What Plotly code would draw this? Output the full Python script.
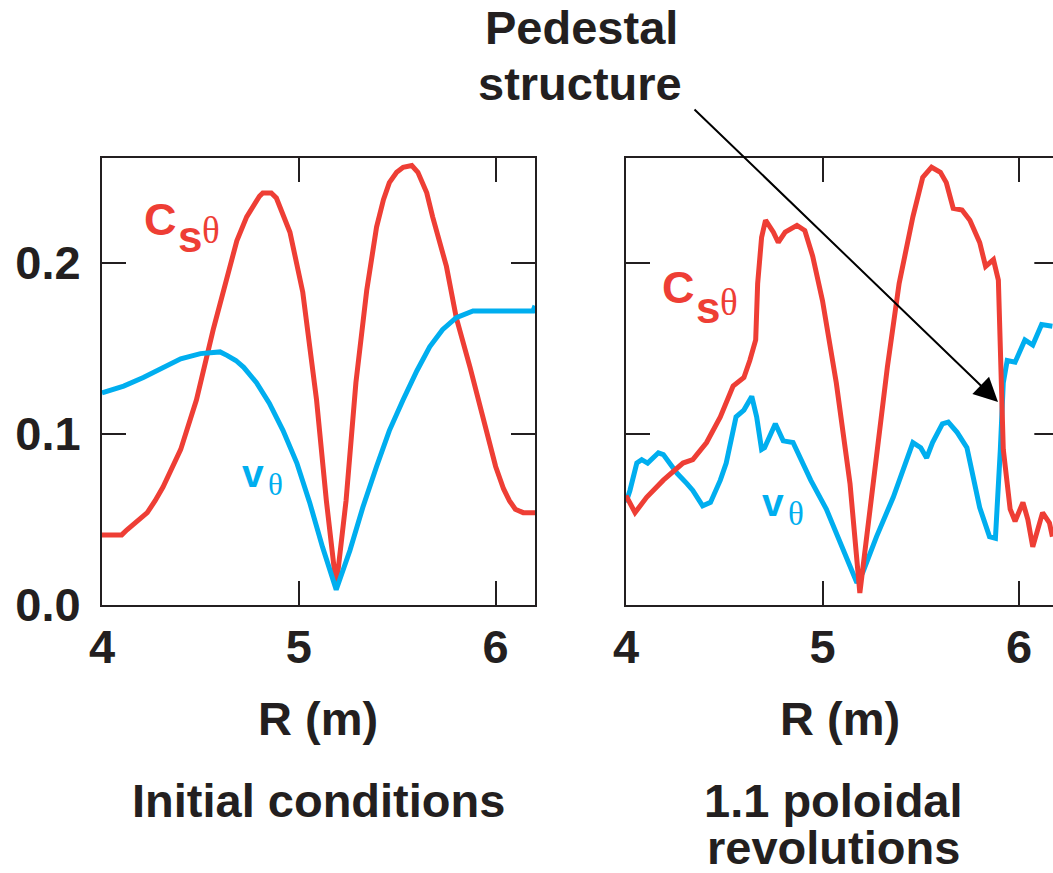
import plotly.graph_objects as go

W, H = 1053, 873

# ---------------- data ----------------
# Left panel: initial conditions
cs_left_R = [4.00, 4.10, 4.127, 4.18, 4.23, 4.27, 4.31, 4.40, 4.48, 4.565, 4.65, 4.685, 4.735, 4.77, 4.80, 4.817,
             4.86, 4.886, 4.92, 4.955, 5.02, 5.09, 5.14, 5.19, 5.24, 5.29, 5.345, 5.395, 5.43, 5.46, 5.497,
             5.53, 5.574, 5.605, 5.65, 5.68, 5.75, 5.80, 5.87, 5.935, 6.00, 6.04, 6.07, 6.10, 6.14, 6.20]
cs_left = [0.041, 0.041, 0.044, 0.049, 0.054, 0.061, 0.069, 0.091, 0.120, 0.161, 0.198, 0.213, 0.227, 0.234, 0.239, 0.241,
           0.241, 0.238, 0.229, 0.218, 0.183, 0.120, 0.061, 0.011, 0.061, 0.130, 0.184, 0.221, 0.237, 0.247, 0.253,
           0.256, 0.257, 0.253, 0.241, 0.227, 0.198, 0.168, 0.139, 0.110, 0.081, 0.068, 0.061, 0.056, 0.054, 0.054]

v_left_R = [4.00, 4.11, 4.21, 4.31, 4.40, 4.50, 4.60, 4.635, 4.68, 4.72, 4.785, 4.85, 4.92, 4.99, 5.055, 5.12,
            5.19, 5.26, 5.325, 5.395, 5.46, 5.53, 5.60, 5.665, 5.73, 5.80, 5.87, 5.885, 6.19, 6.20]
v_left = [0.124, 0.128, 0.133, 0.139, 0.144, 0.147, 0.148, 0.146, 0.143, 0.139, 0.130, 0.118, 0.102, 0.083, 0.060, 0.034,
          0.009, 0.032, 0.057, 0.081, 0.102, 0.120, 0.137, 0.151, 0.161, 0.168, 0.171, 0.172, 0.172, 0.175]

# Right panel: 1.1 poloidal revolutions
cs_right_R = [4.00, 4.046, 4.105, 4.19, 4.29, 4.34, 4.41, 4.48, 4.545, 4.60, 4.63, 4.66, 4.67, 4.69, 4.71,
              4.75, 4.775, 4.81, 4.87, 4.91, 4.95, 5.00, 5.07, 5.14, 5.19, 5.255, 5.33, 5.39, 5.46, 5.51,
              5.555, 5.60, 5.63, 5.665, 5.71, 5.75, 5.80, 5.83, 5.87, 5.895, 5.905, 5.92, 5.955, 5.98,
              6.02, 6.045, 6.07, 6.12, 6.155, 6.17]
cs_right = [0.064, 0.054, 0.063, 0.073, 0.083, 0.085, 0.095, 0.110, 0.128, 0.133, 0.143, 0.155, 0.188, 0.215, 0.225,
            0.218, 0.212, 0.218, 0.222, 0.219, 0.204, 0.178, 0.130, 0.071, 0.007, 0.071, 0.139, 0.188, 0.227, 0.250,
            0.256, 0.253, 0.247, 0.232, 0.231, 0.225, 0.212, 0.198, 0.202, 0.190, 0.149, 0.091, 0.056, 0.049,
            0.060, 0.050, 0.034, 0.054, 0.048, 0.040]

v_right_R = [4.00, 4.02, 4.055, 4.08, 4.11, 4.165, 4.19, 4.26, 4.31, 4.34, 4.39, 4.43, 4.48, 4.51, 4.56, 4.60,
             4.64, 4.665, 4.69, 4.705, 4.76, 4.80, 4.85, 4.94, 5.02, 5.09, 5.175, 5.205, 5.275, 5.36, 5.46,
             5.50, 5.53, 5.56, 5.61, 5.64, 5.685, 5.735, 5.80, 5.85, 5.88, 5.905, 5.92, 5.94, 5.98, 6.03,
             6.07, 6.115, 6.17]
v_right = [0.060, 0.067, 0.083, 0.085, 0.083, 0.089, 0.088, 0.077, 0.071, 0.067, 0.058, 0.060, 0.073, 0.083, 0.110, 0.114,
           0.122, 0.110, 0.091, 0.092, 0.106, 0.096, 0.095, 0.073, 0.056, 0.036, 0.013, 0.019, 0.040, 0.063, 0.095,
           0.092, 0.086, 0.095, 0.106, 0.107, 0.101, 0.092, 0.057, 0.040, 0.039, 0.091, 0.130, 0.143, 0.142, 0.155,
           0.152, 0.164, 0.163]

x_ticks = [4, 5, 6]
x_ticktext = ["4", "5", "6"]
y_ticks = [0.0, 0.1, 0.2]
y_ticktext = ["0.0", "0.1", "0.2"]

# ---------------- styling ----------------
RED = "#EE3E35"
BLUE = "#00AEEF"
INK = "#231F20"
SANS = "Liberation Sans, Arial, Helvetica, sans-serif"
SERIF = "Liberation Serif, Times New Roman, serif"
FS = 47
LW = 5


def px(x):
    return x / W


def py(y):
    return 1 - y / H


fig = go.Figure()
fig.add_trace(go.Scatter(x=cs_left_R, y=cs_left, mode="lines", line=dict(color=RED, width=LW),
                         xaxis="x", yaxis="y", showlegend=False))
fig.add_trace(go.Scatter(x=v_left_R, y=v_left, mode="lines", line=dict(color=BLUE, width=LW),
                         xaxis="x", yaxis="y", showlegend=False))
fig.add_trace(go.Scatter(x=v_right_R, y=v_right, mode="lines", line=dict(color=BLUE, width=LW),
                         xaxis="x2", yaxis="y2", showlegend=False))
fig.add_trace(go.Scatter(x=cs_right_R, y=cs_right, mode="lines", line=dict(color=RED, width=LW),
                         xaxis="x2", yaxis="y2", showlegend=False))

ydom = [py(605), py(158)]
common_ax = dict(ticks="inside", ticklen=24, tickwidth=2, tickcolor=INK, showline=True, linewidth=2,
                 linecolor=INK, showgrid=False, zeroline=False, automargin=False,
                 tickfont=dict(family=SANS, size=FS, color=INK, weight="bold"))

fig.update_layout(
    template="none",
    width=W, height=H, margin=dict(l=0, r=0, t=0, b=0, pad=0, autoexpand=False),
    paper_bgcolor="white", plot_bgcolor="white",
    xaxis=dict(domain=[px(102), px(535)], range=[4, 6.2], tickvals=x_ticks, ticktext=x_ticktext,
               mirror="ticks", anchor="y", ticklabelstandoff=0, **common_ax),
    yaxis=dict(domain=ydom, range=[0, 0.2614], tickvals=y_ticks, ticktext=y_ticktext,
               mirror="ticks", anchor="x", ticklabelstandoff=10, **common_ax),
    xaxis2=dict(domain=[px(626), 1], range=[4, 6.173], tickvals=x_ticks, ticktext=x_ticktext,
                mirror="ticks", anchor="y2", ticklabelstandoff=0, **common_ax),
    yaxis2=dict(domain=ydom, range=[0, 0.2614], tickvals=y_ticks, showticklabels=False,
                mirror=False, anchor="x2", **common_ax),
)

# right-side ticks of right panel (panel continues past the page edge)
for yv in [0.1, 0.2]:
    fig.add_shape(type="line", xref="x2", yref="y2", x0=6.2 - 24 / 196.5, x1=6.2, y0=yv, y1=yv,
                  line=dict(color=INK, width=2))

anns = []


def text(t, x, y, size=FS, color=INK, family=SANS, weight="bold", xanchor="center"):
    anns.append(dict(text=t, x=px(x), y=py(y), xref="paper", yref="paper", showarrow=False,
                     xanchor=xanchor, yanchor="middle",
                     font=dict(family=family, size=size, color=color, weight=weight)))


# axis titles and captions
text("R (m)", 318, 718)
text("Initial conditions", 318, 800)
text("R (m)", 840, 718)
text("1.1 poloidal", 833, 800)
text("revolutions", 833, 847)
text("Pedestal", 581, 28)
text("structure", 580, 83)

# curve labels
text("C", 142, 219, size=45, color=RED, xanchor="left")
text("s", 176, 237, size=44, color=RED, xanchor="left")
text("θ", 200, 231, size=37, color=RED, family=SERIF, weight="normal", xanchor="left")
text("C", 660, 288, size=45, color=RED, xanchor="left")
text("s", 694, 307, size=44, color=RED, xanchor="left")
text("θ", 718, 302, size=37, color=RED, family=SERIF, weight="normal", xanchor="left")
text("v", 240, 474, size=39, color=BLUE, xanchor="left")
text("θ", 266, 484, size=31, color=BLUE, family=SERIF, weight="normal", xanchor="left")
text("v", 760, 503, size=39, color=BLUE, xanchor="left")
text("θ", 786, 514, size=33, color=BLUE, family=SERIF, weight="normal", xanchor="left")

# arrow from "Pedestal structure" to the pedestal
anns.append(dict(text="", x=px(998), y=py(402), xref="paper", yref="paper", showarrow=True,
                 ax=693 - 998, ay=108 - 402, axref="pixel", ayref="pixel",
                 arrowhead=2, arrowsize=2.4, arrowwidth=2, arrowcolor="#000000", standoff=0, startstandoff=0))

fig.update_layout(annotations=anns)

fig.write_html("out.html")
